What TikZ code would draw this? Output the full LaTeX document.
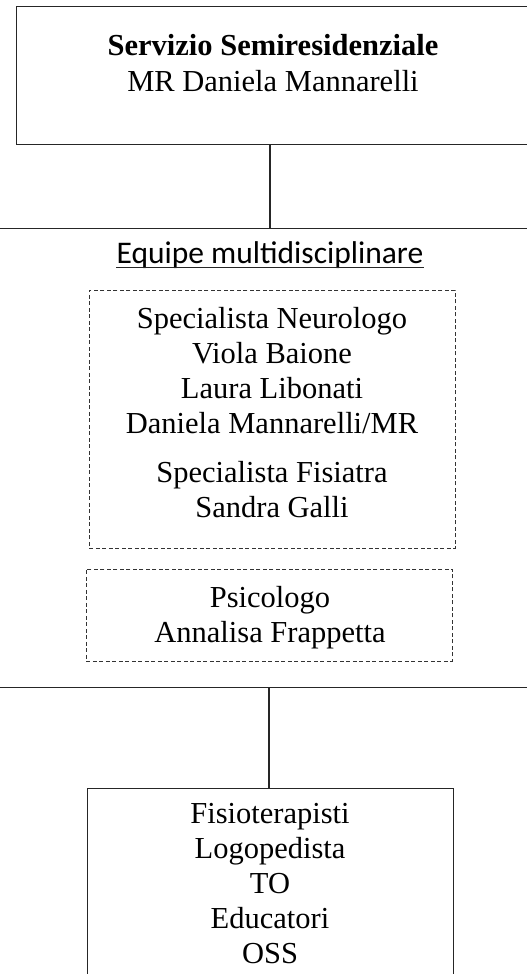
\documentclass[tikz,border=0pt]{standalone}
\usepackage{fontspec}
\setmainfont{Liberation Serif}
\newfontfamily\equipefont{Carlito}
\begin{document}
\begin{tikzpicture}[x=1pt,y=-1pt,
  solidbox/.style={draw=black!85, line width=1.2pt, inner sep=0pt},
  dashbox/.style={draw=black!80, line width=0.8pt, dash pattern=on 4pt off 2.5pt, inner sep=0pt},
  conn/.style={draw=black!85, line width=1.1pt},
  txt/.style={inner sep=0pt, align=center, font=\fontsize{30.5}{35}\selectfont},
]
\useasboundingbox (0,0) rectangle (527,974);
\clip (0,0) rectangle (527,974);
% top box
\node[solidbox, anchor=north west, minimum width=530pt, minimum height=138pt] (top) at (15.5,6) {};
\node[txt, anchor=base] (toptitle) at (273,56) {\textbf{Servizio Semiresidenziale}};
\node[txt, anchor=base] (topname) at (273,91) {MR Daniela Mannarelli};
% middle band
\node[solidbox, anchor=north west, minimum width=560pt, minimum height=459pt] (mid) at (-15,228) {};
\node[inner sep=0pt, anchor=base, font=\equipefont\fontsize{31.5}{35}\selectfont] (equipe) at (270,263) {Equipe multidisciplinare};
\draw[line width=1pt, black!85] ([yshift=-4pt]equipe.base west) -- ([yshift=-4pt]equipe.base east);
% dashed box 1
\node[dashbox, anchor=north west, minimum width=366pt, minimum height=258pt] (spec) at (89,290) {};
\node[txt, anchor=base] (neuro) at (272,517) {Specialista Neurologo\\Viola Baione\\Laura Libonati\\Daniela Mannarelli/MR\\[14pt]Specialista Fisiatra\\Sandra Galli};
% dashed box 2
\node[dashbox, anchor=north west, minimum width=366pt, minimum height=92pt] (psi) at (86,568.5) {};
\node[txt, anchor=base] (psitext) at (270,642) {Psicologo\\Annalisa Frappetta};
% bottom box
\node[solidbox, anchor=north west, minimum width=366pt, minimum height=186pt] (bot) at (87,787.5) {};
\node[txt, anchor=base] (bottext) at (270,963) {Fisioterapisti\\Logopedista\\TO\\Educatori\\OSS};
% connectors
\coordinate (c1) at (270,0);
\coordinate (c2) at (269,0);
\draw[conn] (top.south -| c1) -- (mid.north -| c1);
\draw[conn] (mid.south -| c2) -- (bot.north -| c2);
\end{tikzpicture}
\end{document}
